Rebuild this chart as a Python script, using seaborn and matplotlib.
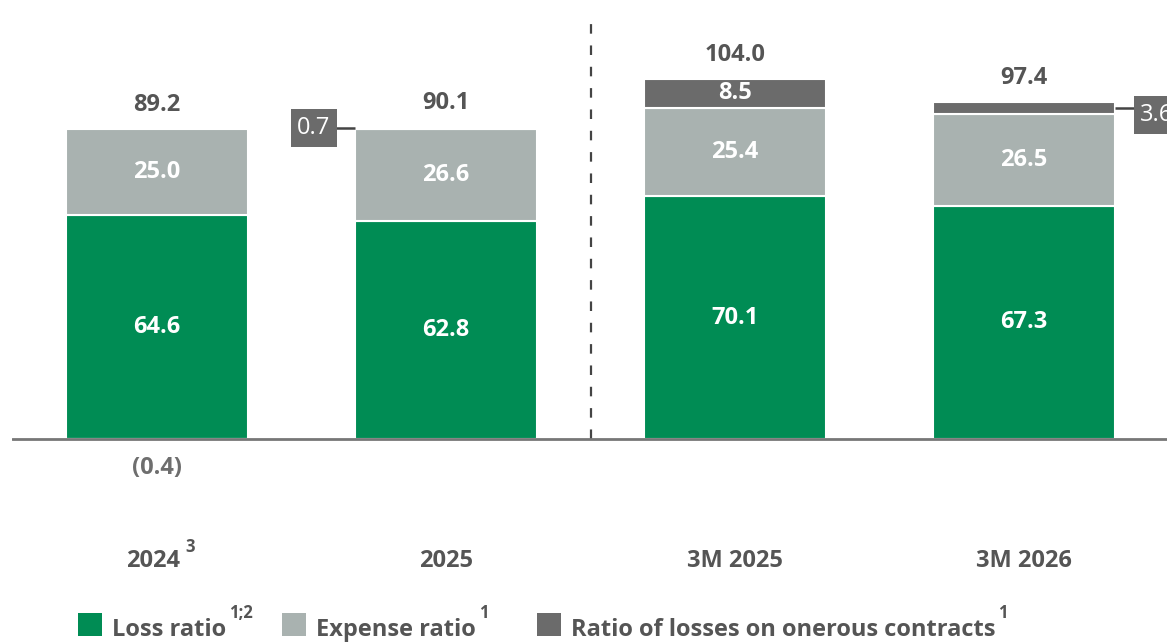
import numpy as np
import pandas as pd
import seaborn as sns
import matplotlib.pyplot as plt
from matplotlib.patches import Rectangle

categories = ['2024', '2025', '3M 2025', '3M 2026']
loss_ratio = [64.6, 62.8, 70.1, 67.3]
expense_ratio = [25.0, 26.6, 25.4, 26.5]
onerous_ratio = [-0.4, 0.7, 8.5, 3.6]
combined_ratio = [89.2, 90.1, 104.0, 97.4]
category_notes = ['3', '', '', '']
legend_labels = ['Loss ratio', 'Expense ratio', 'Ratio of losses on onerous contracts']
legend_notes = ['1;2', '1', '1']

GREEN = '#008C54'
GREY = '#A9B2B0'
DARK = '#6B6B6B'
TEXT = '#555555'

sns.set_theme(style='white')
plt.rcParams['font.family'] = ['Open Sans', 'DejaVu Sans']
FS = 17

df = pd.DataFrame({'category': categories, 'loss': loss_ratio,
                   'expense': expense_ratio, 'onerous': onerous_ratio,
                   'total': combined_ratio})
df['top2'] = df['loss'] + df['expense']
df['base_onerous'] = np.where(df['onerous'] > 0, df['top2'], 0)

W, H = 1167, 642
fig = plt.figure(figsize=(W / 100, H / 100), dpi=100)
px = 3.465  # pixels per unit
y_top, y_base, y_bot = 15, 439, 500
ax = fig.add_axes([12 / W, 1 - y_bot / H, 1 - 12 / W, (y_bot - y_top) / H])
BW = 0.63

bar_kw = dict(x='category', width=BW, edgecolor='white', linewidth=1.5,
              saturation=1, errorbar=None, ax=ax)
sns.barplot(data=df, y='loss', color=GREEN, **bar_kw)
sns.barplot(data=df, y='expense', color=GREY, bottom=df['loss'].tolist(), **bar_kw)
sns.barplot(data=df, y='onerous', color=DARK, bottom=df['base_onerous'].tolist(), **bar_kw)

ax.set_xlim(-0.502, 3.495)
ax.set_ylim(-(y_bot - y_base) / px, (y_base - y_top) / px)
ax.set_xticks([])
ax.set_yticks([])
ax.set_xlabel('')
ax.set_ylabel('')
for s in ax.spines.values():
    s.set_visible(False)

ax.axhline(0, color='#777777', lw=2, zorder=5)
ax.plot([1.5, 1.5], [0, (y_base - y_top) / px], color='#444444', lw=1.6,
        ls=(0, (4.3, 5.3)), clip_on=False)

lab = dict(ha='center', va='center', fontsize=FS, fontweight='bold', color='white')
for i, r in df.iterrows():
    ax.text(i, r['loss'] / 2, f"{r['loss']:.1f}", **lab)
    ax.text(i, r['loss'] + r['expense'] / 2, f"{r['expense']:.1f}", **lab)
    ax.annotate(f"{r['total']:.1f}", (i, r['top2'] + max(r['onerous'], 0)),
                xytext=(0, 12.5), textcoords='offset points', ha='center',
                va='baseline', fontsize=FS, fontweight='bold', color=TEXT)

# onerous labels
ax.text(2, df['top2'][2] + df['onerous'][2] / 2, f"{df['onerous'][2]:.1f}", **lab)
ax.text(0, -(468 - y_base) / px, f"({abs(df['onerous'][0]):.1f})", ha='center',
        va='center', fontsize=FS, fontweight='bold', color='#6E6E6E')

# callouts for the thin onerous segments
box = dict(boxstyle='square,pad=0.28', fc=DARK, ec='none')
gap = 20 / 289
for i, side, box_x, box_y in [(1, -1, 1 - 0.457, (y_base - 128) / px),
                              (3, 1, 3 + (1157 - 1024) / 289, (y_base - 115) / px)]:
    edge = i + side * BW / 2
    y_mid = df['top2'][i] + df['onerous'][i] / 2
    ax.plot([edge, edge + side * gap], [y_mid, y_mid], color='#444444', lw=1.8,
            clip_on=False, solid_capstyle='butt')
    ax.text(box_x, box_y, f"{df['onerous'][i]:.1f}", ha='center', va='center',
            fontsize=FS, color='white', bbox=box, clip_on=False)

# category labels
renderer = fig.canvas.get_renderer()
cat_y = -(567 - y_base) / px
for i, (c, n) in enumerate(zip(categories, category_notes)):
    shift = -4 / 289 if n else 0
    t = ax.text(i + shift, cat_y, c, ha='center', va='baseline', fontsize=FS,
                fontweight='bold', color=TEXT, clip_on=False)
    if n:
        bb = t.get_window_extent(renderer)
        fig.text((bb.x1 + 5) / W, 1 - 547 / H, n, ha='left', va='center',
                 fontsize=12, fontweight='bold', color=TEXT)

# legend
leg_x = [78, 282, 537]
for x0, label, note, col in zip(leg_x, legend_labels, legend_notes, [GREEN, GREY, DARK]):
    fig.add_artist(Rectangle((x0 / W, 1 - 636 / H), 24 / W, 23 / H,
                             transform=fig.transFigure, fc=col, ec='none'))
    t = fig.text((x0 + 34) / W, 1 - 636 / H, label, ha='left', va='baseline',
                 fontsize=FS, fontweight='bold', color=TEXT)
    bb = t.get_window_extent(renderer)
    fig.text((bb.x1 + 3) / W, 1 - 613 / H, note, ha='left', va='center',
             fontsize=12, fontweight='bold', color=TEXT)

fig.savefig('out.png', dpi=100)
